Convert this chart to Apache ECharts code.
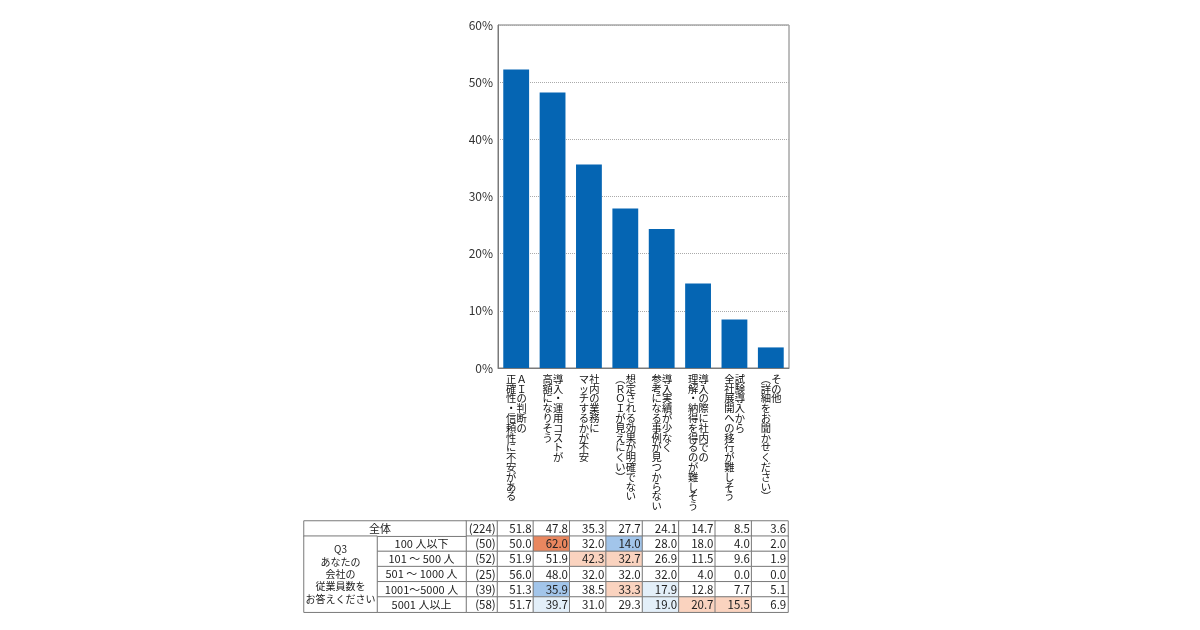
<!DOCTYPE html>
<html>
<head>
<meta charset="utf-8">
<script src="https://cdn.jsdelivr.net/npm/echarts@6/dist/echarts.min.js"></script>
<style>
html,body{margin:0;padding:0;background:#fff;}
#c{width:1200px;height:630px;}
</style>
</head>
<body>
<div id="c"></div>
<script>
// ---- data ----
const categoryLine1 = ['ＡＩの判断の', '導入・運用コストが', '社内の業務に', '想定される効果が明確でない', '導入実績が少なく', '導入の際に社内での', '試験導入から', 'その他'];
const categoryLine2 = ['正確性・信頼性に不安がある', '高額になりそう', 'マッチするかが不安', '（ＲＯＩが見えにくい）', '参考になる事例が見つからない', '理解・納得を得るのが難しそう', '全社展開への移行が難しそう', '（詳細をお聞かせください）'];
const barValues = [52.2, 48.2, 35.6, 27.9, 24.3, 14.8, 8.5, 3.6];
const yTicks = [0, 10, 20, 30, 40, 50, 60];

const headerLabel = '全体';
const questionLabel = ['Q3', 'あなたの', '会社の', '従業員数を', 'お答えください'];
const rowLabels = ['100 人以下', '101 〜 500 人', '501 〜 1000 人', '1001〜5000 人', '5001 人以上'];
const sampleSizes = [224, 50, 52, 25, 39, 58];
const rowTotal = [51.8, 47.8, 35.3, 27.7, 24.1, 14.7, 8.5, 3.6];
const row100 = [50.0, 62.0, 32.0, 14.0, 28.0, 18.0, 4.0, 2.0];
const row500 = [51.9, 51.9, 42.3, 32.7, 26.9, 11.5, 9.6, 1.9];
const row1000 = [56.0, 48.0, 32.0, 32.0, 32.0, 4.0, 0.0, 0.0];
const row5000 = [51.3, 35.9, 38.5, 33.3, 17.9, 12.8, 7.7, 5.1];
const row5001 = [51.7, 39.7, 31.0, 29.3, 19.0, 20.7, 15.5, 6.9];
// highlight level: 2 much higher, 1 higher, -1 lower, -2 much lower
const levelTotal = [0, 0, 0, 0, 0, 0, 0, 0];
const level100 = [0, 2, 0, -2, 0, 0, 0, 0];
const level500 = [0, 0, 1, 1, 0, 0, 0, 0];
const level1000 = [0, 0, 0, 0, 0, 0, 0, 0];
const level5000 = [0, -2, 0, 1, -1, 0, 0, 0];
const level5001 = [0, -1, 0, 0, -1, 1, 1, 0];

// ---- styles ----
const FONT = '"Noto Sans CJK JP", "Noto Sans", sans-serif';
const BAR = '#0565b3';
const LINE = '#7a7a7a';
const levelColor = {'2': '#e9875f', '1': '#fad3bf', '0': '#ffffff', '-1': '#e3eff9', '-2': '#a2c5ea'};

const tableRows = [rowTotal, row100, row500, row1000, row5000, row5001];
const tableLevels = [levelTotal, level100, level500, level1000, level5000, level5001];

function vertical(s) {
  return Array.from(s.replace(/（/g, '︵').replace(/）/g, '︶')).join('\n');
}
const vLabel = (lines, dx) => ({
  show: true, position: 'bottom', distance: 6, offset: [dx, 0],
  align: 'center', verticalAlign: 'top',
  fontFamily: FONT, fontSize: 10.3, lineHeight: 9.8, color: '#111',
  formatter: p => vertical(lines[p.dataIndex])
});

const valueCells = [];
tableRows.forEach((row, r) => row.forEach((v, c) => {
  valueCells.push({value: [c, r, v], itemStyle: {color: levelColor[String(tableLevels[r][c])]}});
}));
const nCells = sampleSizes.map((n, r) => ({value: [0, r, n]}));
const rowLabelCells = rowLabels.map((t, r) => ({value: [0, r, r]}));

const hiddenCat = (gi, data, inverse) => ({
  type: 'category', gridIndex: gi, data: data, inverse: !!inverse,
  axisLine: {show: false}, axisTick: {show: false}, axisLabel: {show: false}, splitLine: {show: false}
});

const cellStyle = {borderColor: LINE, borderWidth: 1, color: '#fff'};
const cellLabel = {show: true, fontFamily: FONT, fontSize: 11.5, color: '#222'};

const rowH = 15.2;
const option = {
  animation: false,
  backgroundColor: '#fff',
  grid: [
    {left: 498, top: 25, width: 291, height: 343, show: true, borderColor: LINE, borderWidth: 1, outerBoundsMode: 'none'},
    {left: 497, top: 521, width: 291, height: rowH * 6, outerBoundsMode: 'none'},
    {left: 466, top: 521, width: 31, height: rowH * 6, outerBoundsMode: 'none'},
    {left: 377, top: 521 + rowH, width: 89, height: rowH * 5, outerBoundsMode: 'none'},
    {left: 304, top: 521, width: 162, height: rowH, outerBoundsMode: 'none'},
    {left: 304, top: 521 + rowH, width: 73, height: rowH * 5, outerBoundsMode: 'none'}
  ],
  xAxis: [
    {type: 'category', gridIndex: 0, data: categoryLine1.map((a, i) => a + categoryLine2[i]),
     axisLine: {show: true, lineStyle: {color: LINE}}, axisTick: {show: false},
     axisLabel: {show: false}},
    hiddenCat(1, categoryLine1.map((_, i) => i)),
    hiddenCat(2, ['n']),
    hiddenCat(3, ['row']),
    hiddenCat(4, ['head']),
    hiddenCat(5, ['q'])
  ],
  yAxis: [
    {type: 'value', gridIndex: 0, min: yTicks[0], max: yTicks[yTicks.length - 1], interval: 10,
     axisLine: {show: true, lineStyle: {color: LINE}}, axisTick: {show: false},
     axisLabel: {formatter: '{value}%', fontFamily: FONT, fontSize: 12, color: '#333', margin: 5},
     splitLine: {show: true, lineStyle: {type: 'dotted', color: '#aaa', width: 1}}},
    hiddenCat(1, tableRows.map((_, i) => i), true),
    hiddenCat(2, sampleSizes.map((_, i) => i), true),
    hiddenCat(3, rowLabels.map((_, i) => i), true),
    hiddenCat(4, ['h']),
    hiddenCat(5, ['q'])
  ],
  series: [
    {type: 'bar', xAxisIndex: 0, yAxisIndex: 0, data: barValues, barCategoryGap: '29%', barGap: '-100%',
     itemStyle: {color: BAR}, silent: true, label: vLabel(categoryLine1, 5.5), z: 3},
    {type: 'bar', xAxisIndex: 0, yAxisIndex: 0, data: barValues, barCategoryGap: '29%', barGap: '-100%',
     itemStyle: {color: 'rgba(0,0,0,0)'}, silent: true, label: vLabel(categoryLine2, -5), z: 1},
    {type: 'heatmap', xAxisIndex: 1, yAxisIndex: 1, data: valueCells, itemStyle: cellStyle,
     label: Object.assign({}, cellLabel, {position: 'insideRight', distance: 2.5,
       formatter: p => p.value[2].toFixed(1)}), silent: true},
    {type: 'heatmap', xAxisIndex: 2, yAxisIndex: 2, data: nCells, itemStyle: cellStyle,
     label: Object.assign({}, cellLabel, {position: 'insideRight', distance: 2,
       formatter: p => '(' + p.value[2] + ')'}), silent: true},
    {type: 'heatmap', xAxisIndex: 3, yAxisIndex: 3, data: rowLabelCells, itemStyle: cellStyle,
     label: Object.assign({}, cellLabel, {position: 'inside', fontSize: 11,
       formatter: p => rowLabels[p.value[2]]}), silent: true},
    {type: 'heatmap', xAxisIndex: 4, yAxisIndex: 4, data: [{value: [0, 0, 0]}], itemStyle: cellStyle,
     label: Object.assign({}, cellLabel, {position: 'inside', fontSize: 11, offset: [-5, 0],
       formatter: () => headerLabel}), silent: true},
    {type: 'heatmap', xAxisIndex: 5, yAxisIndex: 5, data: [{value: [0, 0, 0]}], itemStyle: cellStyle,
     label: Object.assign({}, cellLabel, {position: 'inside', fontSize: 10, lineHeight: 12.3,
       formatter: () => questionLabel.join('\n')}), silent: true}
  ]
};

const chart = echarts.init(document.getElementById('c'), null, {renderer: 'canvas'});
chart.setOption(option);
</script>
</body>
</html>
